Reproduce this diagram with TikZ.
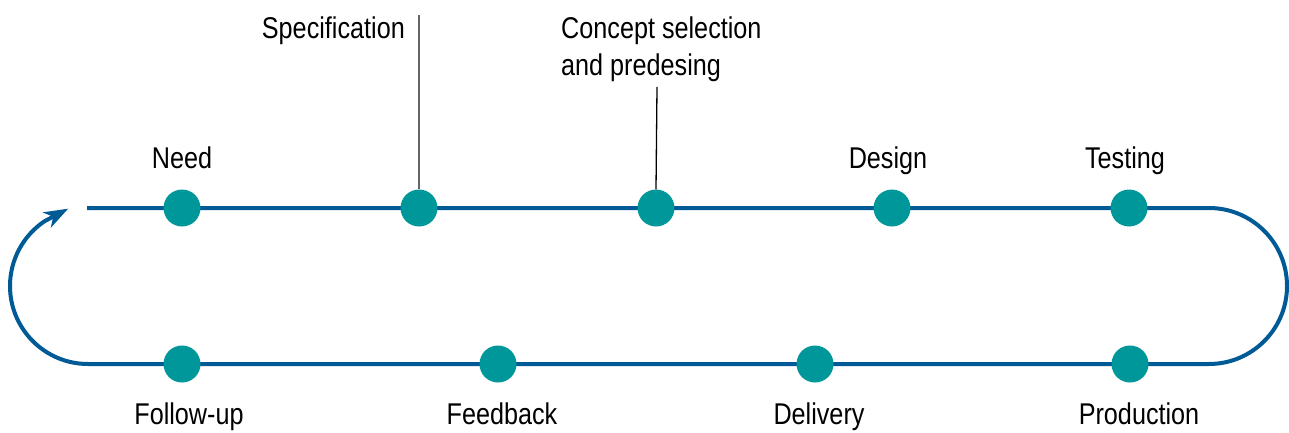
\documentclass[tikz,border=0pt]{standalone}
\usepackage{fontspec}
\setmainfont{Liberation Sans}[FakeStretch=0.84]
\usetikzlibrary{arrows.meta}
\definecolor{loopblue}{HTML}{005A96}
\definecolor{dotteal}{HTML}{00979A}
\begin{document}
\begin{tikzpicture}[x=1pt,y=1pt,
  flow/.style={draw=loopblue,line width=4pt},
  stage/.style={circle,fill=dotteal,minimum size=37pt,inner sep=0pt},
  lbl/.style={font=\fontsize{30}{37}\selectfont,inner sep=0pt,anchor=base},
  leader/.style={line width=1.3pt}]
\useasboundingbox (0,0) rectangle (1289,432);
% stage positions along the loop
\coordinate (p-need) at (182,224);
\coordinate (p-spec) at (419,224);
\coordinate (p-conc) at (656,224);
\coordinate (p-design) at (892,224);
\coordinate (p-test) at (1129,224);
\coordinate (p-prod) at (1130,68);
\coordinate (p-deliv) at (815,68);
\coordinate (p-feed) at (498,68);
\coordinate (p-follow) at (182,68);
\coordinate (start) at (87,224);
\coordinate (rtop) at (1209,224);
\coordinate (lbot) at (88,68);
% the loop
\draw[flow,-{Stealth[length=24pt,width=17pt,inset=7pt]}]
  (start) -- (p-need) -- (p-spec) -- (p-conc) -- (p-design) -- (p-test) -- (rtop)
  arc[start angle=90,end angle=-90,radius=78]
  -- (p-prod) -- (p-deliv) -- (p-feed) -- (p-follow) -- (lbot)
  arc[start angle=270,end angle=124,radius=78] -- ++(28:27);
% stage markers
\node[stage] (need) at (p-need) {};
\node[stage] (spec) at (p-spec) {};
\node[stage] (conc) at (p-conc) {};
\node[stage] (design) at (p-design) {};
\node[stage] (test) at (p-test) {};
\node[stage] (prod) at (p-prod) {};
\node[stage] (deliv) at (p-deliv) {};
\node[stage] (feed) at (p-feed) {};
\node[stage] (follow) at (p-follow) {};
% labels
\node[lbl] (t-need) at (182,264) {Need};
\node[lbl] (t-design) at (888,264) {Design};
\node[lbl] (t-test) at (1125,264) {Testing};
\node[lbl,anchor=base east] (t-spec) at (405,393) {Specification};
\node[lbl,anchor=base west] (t-conc1) at (561,393) {Concept selection};
\node[lbl,anchor=base west] (t-conc2) at (561,356) {and predesing};
\node[lbl] (t-follow) at (189,8) {Follow-up};
\node[lbl] (t-feed) at (502,8) {Feedback};
\node[lbl] (t-deliv) at (819,8) {Delivery};
\node[lbl] (t-prod) at (1139,8) {Production};
% leader lines
\coordinate (spec-top) at (419,417);
\coordinate (conc-top) at (657,345);
\draw[leader,draw=black!60] (spec-top) -- (spec.north);
\draw[leader] (conc-top) -- (conc.north);
\end{tikzpicture}
\end{document}
